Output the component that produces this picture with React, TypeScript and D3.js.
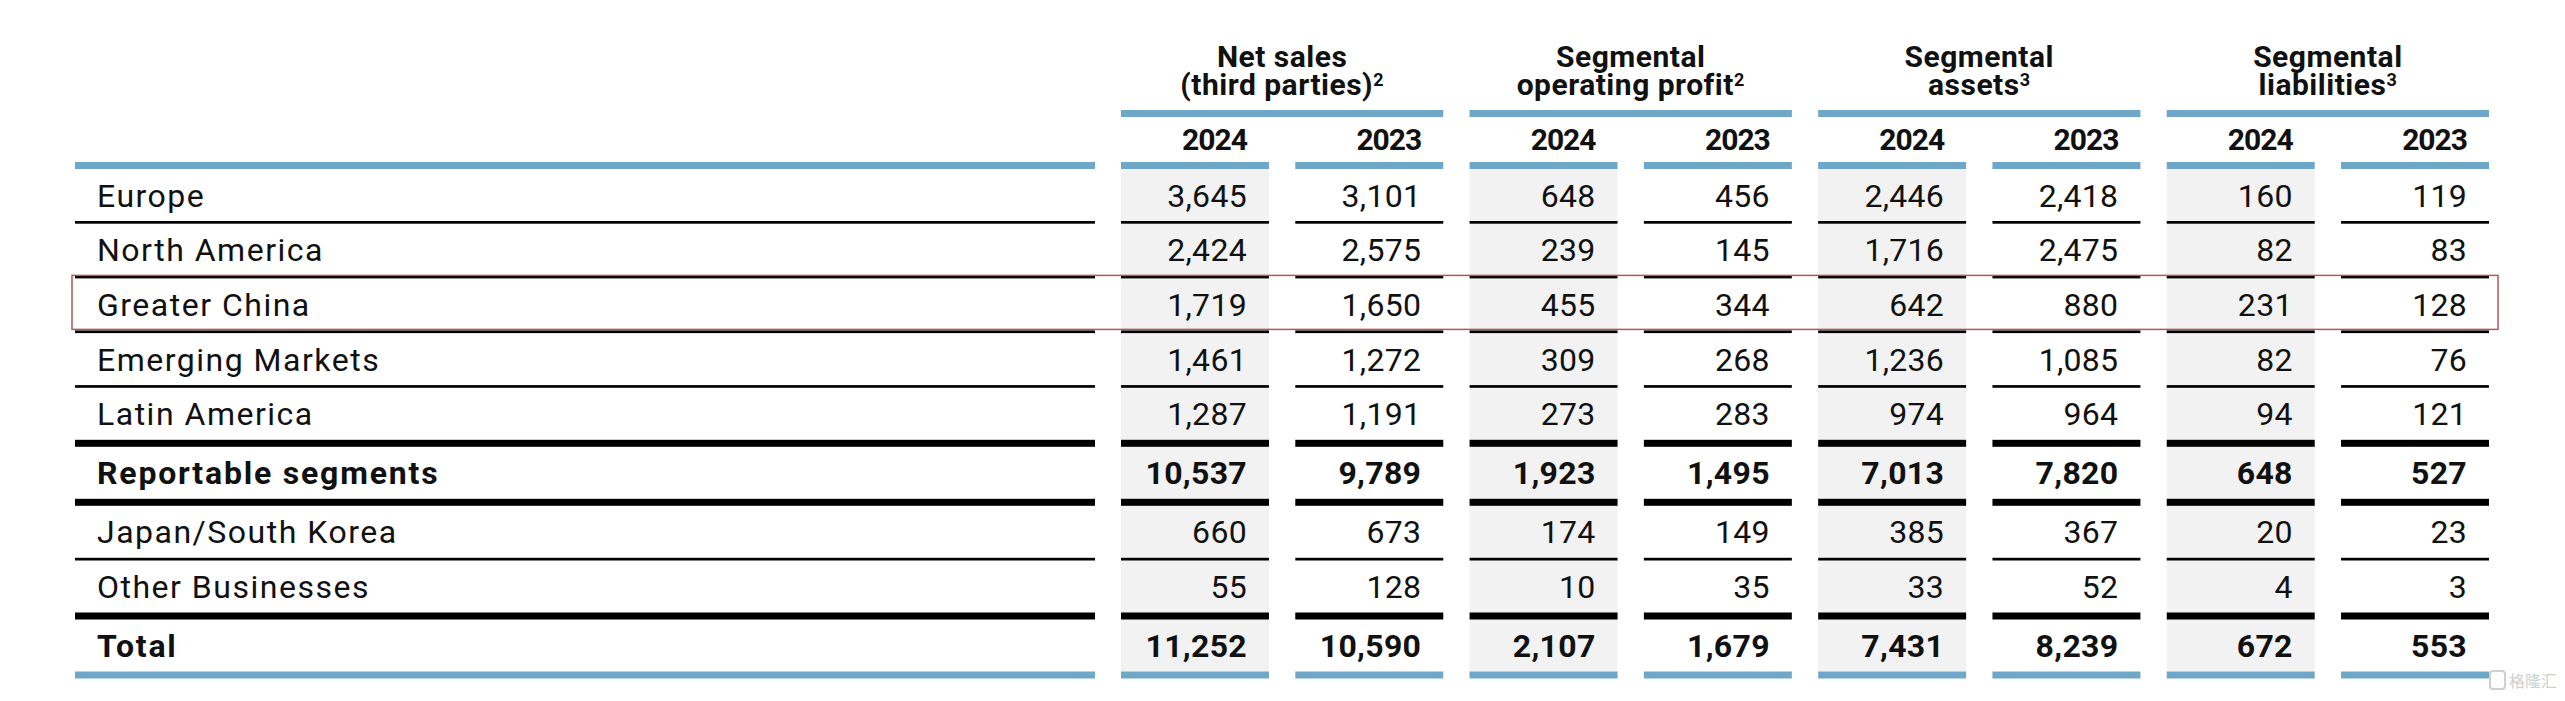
import React from "react";
import * as d3 from "d3";

const categories = [
  "Europe",
  "North America",
  "Greater China",
  "Emerging Markets",
  "Latin America",
  "Reportable segments",
  "Japan/South Korea",
  "Other Businesses",
  "Total",
];
const boldRows = ["Reportable segments", "Total"];
// separator after each row: thin / thick / blue
const separators = ["thin", "thin", "thin", "thin", "thick", "thick", "thin", "thick", "blue"];

const netSales2024 = [3645, 2424, 1719, 1461, 1287, 10537, 660, 55, 11252];
const netSales2023 = [3101, 2575, 1650, 1272, 1191, 9789, 673, 128, 10590];
const opProfit2024 = [648, 239, 455, 309, 273, 1923, 174, 10, 2107];
const opProfit2023 = [456, 145, 344, 268, 283, 1495, 149, 35, 1679];
const assets2024 = [2446, 1716, 642, 1236, 974, 7013, 385, 33, 7431];
const assets2023 = [2418, 2475, 880, 1085, 964, 7820, 367, 52, 8239];
const liabilities2024 = [160, 82, 231, 82, 94, 648, 20, 4, 672];
const liabilities2023 = [119, 83, 128, 76, 121, 527, 23, 3, 553];

const years = ["2024", "2023"];
const groupLine1 = ["Net sales", "Segmental", "Segmental", "Segmental"];
const groupLine2 = ["(third parties)", "operating profit", "assets", "liabilities"];
const groupNote = ["2", "2", "3", "3"];

const highlighted = "Greater China";

const columns = [
  { key: "ns24", group: 0, year: 0, values: netSales2024 },
  { key: "ns23", group: 0, year: 1, values: netSales2023 },
  { key: "op24", group: 1, year: 0, values: opProfit2024 },
  { key: "op23", group: 1, year: 1, values: opProfit2023 },
  { key: "as24", group: 2, year: 0, values: assets2024 },
  { key: "as23", group: 2, year: 1, values: assets2023 },
  { key: "li24", group: 3, year: 0, values: liabilities2024 },
  { key: "li23", group: 3, year: 1, values: liabilities2023 },
];

const W = 2565;
const H = 701;
const BLUE = "#6fa7c9";
const GRAY = "#f2f2f2";
const FONT = "Roboto, 'Open Sans', 'DejaVu Sans', sans-serif";

export default function App() {
  const x = d3
    .scaleBand<string>()
    .domain(columns.map((c) => c.key))
    .range([1121, 2489])
    .paddingInner(0.151);
  const bw = x.bandwidth();
  const labelX0 = 75;
  const labelX1 = 1095;

  const headerBarTop = 162;
  const headerBarH = 7;
  const groupBarTop = 110;
  const groupBarH = 7;
  const rowH = 52;
  const sepH: Record<string, number> = { thin: 2.7, thick: 7, blue: 7 };

  const rows: { top: number; bottom: number; sepTop: number; sepBottom: number }[] = [];
  let yCur = headerBarTop + headerBarH;
  categories.forEach((_, i) => {
    const top = yCur;
    const bottom = top + rowH;
    const sT = bottom;
    const sB = bottom + sepH[separators[i]];
    rows.push({ top, bottom, sepTop: sT, sepBottom: sB });
    yCur = sB;
  });
  const tableBottom = rows[rows.length - 1].bottom;
  const fmt = d3.format(",");

  const segments = [{ x0: labelX0, x1: labelX1 }].concat(
    columns.map((c) => ({ x0: x(c.key)!, x1: x(c.key)! + bw }))
  );

  const groupSpans = [0, 1, 2, 3].map((g) => {
    const cs = columns.filter((c) => c.group === g);
    return { x0: x(cs[0].key)!, x1: x(cs[cs.length - 1].key)! + bw };
  });

  const hiIdx = categories.indexOf(highlighted);
  const hiRow = rows[hiIdx];

  return (
    <svg
      width={W}
      height={H}
      style={{ position: "absolute", left: 0, top: 0, display: "block", background: "#fff" }}
      fontFamily={FONT}
    >
      <rect x={0} y={0} width={W} height={H} fill="#fff" />

      {/* gray 2024 columns */}
      {columns
        .filter((c) => c.year === 0)
        .map((c) => (
          <rect
            key={"g" + c.key}
            x={x(c.key)}
            y={headerBarTop + headerBarH}
            width={bw}
            height={tableBottom - (headerBarTop + headerBarH)}
            fill={GRAY}
          />
        ))}

      {/* group headers */}
      {groupSpans.map((s, g) => {
        const cx = (s.x0 + s.x1) / 2;
        return (
          <g key={"gh" + g}>
            <text textAnchor="middle" fontSize={30} fontWeight={700} letterSpacing={0.5} fill="#111">
              <tspan x={cx} y={66.7}>
                {groupLine1[g]}
              </tspan>
              <tspan x={cx} y={95}>
                {groupLine2[g]}
                <tspan fontSize={18} dy={-9}>
                  {groupNote[g]}
                </tspan>
              </tspan>
            </text>
            <rect x={s.x0} y={groupBarTop} width={s.x1 - s.x0} height={groupBarH} fill={BLUE} />
          </g>
        );
      })}

      {/* years + column header bars */}
      {columns.map((c) => (
        <g key={"yh" + c.key}>
          <text
            x={x(c.key)! + bw - 22}
            y={150}
            textAnchor="end"
            fontSize={30}
            fontWeight={700}
            letterSpacing={-1}
            fill="#111"
          >
            {years[c.year]}
          </text>
          <rect x={x(c.key)} y={headerBarTop} width={bw} height={headerBarH} fill={BLUE} />
        </g>
      ))}
      <rect x={labelX0} y={headerBarTop} width={labelX1 - labelX0} height={headerBarH} fill={BLUE} />

      {/* rows */}
      {categories.map((cat, i) => {
        const r = rows[i];
        const base = (r.top + r.bottom) / 2 + 11.5;
        const bold = boldRows.includes(cat);
        const sep = separators[i];
        return (
          <g key={"r" + i}>
            <text
              x={labelX0 + 22}
              y={base}
              fontSize={32}
              fontWeight={bold ? 700 : 400}
              letterSpacing={bold ? 1.8 : 1.5}
              fill="#111"
            >
              {cat}
            </text>
            {columns.map((c) => (
              <text
                key={c.key}
                x={x(c.key)! + bw - 22}
                y={base}
                textAnchor="end"
                fontSize={32}
                fontWeight={bold ? 700 : 400}
                letterSpacing={0.3}
                fill="#111"
              >
                {fmt(c.values[i])}
              </text>
            ))}
            {segments.map((s, j) => (
              <rect
                key={"s" + j}
                x={s.x0}
                y={r.sepTop}
                width={s.x1 - s.x0}
                height={r.sepBottom - r.sepTop}
                fill={sep === "blue" ? BLUE : "#000"}
              />
            ))}
          </g>
        );
      })}

      {/* highlight box */}
      <rect
        x={72}
        y={hiRow.top - 3}
        width={2498 - 72}
        height={hiRow.bottom - hiRow.top + 2}
        fill="none"
        stroke="#b3575a"
        strokeWidth={1.5}
      />

      {/* watermark */}
      <g>
        <rect x={2490} y={671} width={15} height={18} rx={3} fill="none" stroke="#cfcfcf" strokeWidth={2} />
        <text x={2509} y={687} fontSize={16} fill="#cfcfcf" fontFamily="'Noto Sans CJK SC', sans-serif">
          格隆汇
        </text>
      </g>
    </svg>
  );
}
